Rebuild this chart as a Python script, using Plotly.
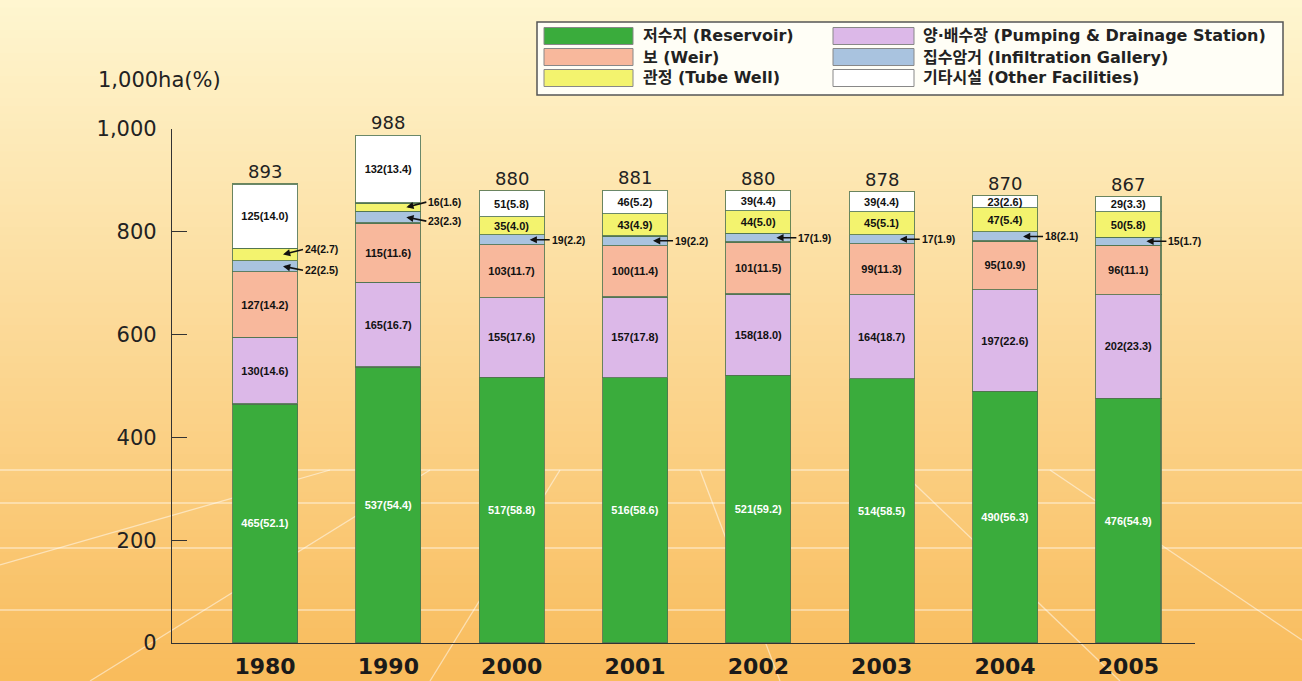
import plotly.graph_objects as go

# ---------------- data ----------------
years = ["1980", "1990", "2000", "2001", "2002", "2003", "2004", "2005"]
totals = [893, 988, 880, 881, 880, 878, 870, 867]
reservoir = [465, 537, 517, 516, 521, 514, 490, 476]
pumping = [130, 165, 155, 157, 158, 164, 197, 202]
weir = [127, 115, 103, 100, 101, 99, 95, 96]
infiltration = [22, 23, 19, 19, 17, 17, 18, 15]
tube_well = [24, 16, 35, 43, 44, 45, 47, 50]
other = [125, 132, 51, 46, 39, 39, 23, 29]

series_names = [
    "저수지 (Reservoir)",
    "양·배수장 (Pumping & Drainage Station)",
    "보 (Weir)",
    "집수암거 (Infiltration Gallery)",
    "관정 (Tube Well)",
    "기타시설 (Other Facilities)",
]
series_values = [reservoir, pumping, weir, infiltration, tube_well, other]
y_ticks = [0, 200, 400, 600, 800, 1000]
y_tick_text = ["0", "200", "400", "600", "800", "1,000"]
y_title = "1,000ha(%)"

# ---------------- style ----------------
colors = ["#3aac3c", "#dcb8e8", "#f8b89c", "#a9c3df", "#f3f36e", "#ffffff"]
text_colors = ["white", "#111111", "#111111", "#111111", "#111111", "#111111"]
# which series get labels outside with an arrow, per year index
outside = {3: set(range(8)), 4: {0, 1}}
LABEL_FONT = "Liberation Sans Narrow, Liberation Sans"
MAIN_FONT = "DejaVu Sans"

W, H = 1302, 681
PL, PR, PT, PB = 172, 1195, 129, 643


def px(x):
    return (x - PL) / (PR - PL)


def py(y):
    return (PB - y) / (PB - PT)


fig = go.Figure()

# gradient background
n_strips = 90
top_c = (255, 246, 208)
bot_c = (249, 188, 92)
for i in range(n_strips):
    t = i / (n_strips - 1)
    c = tuple(int(top_c[k] + (bot_c[k] - top_c[k]) * t) for k in range(3))
    y0 = i * H / n_strips
    y1 = (i + 1) * H / n_strips + 1
    fig.add_shape(type="rect", xref="paper", yref="paper",
                  x0=px(0), x1=px(W), y0=py(y1), y1=py(y0),
                  fillcolor="rgb(%d,%d,%d)" % c, line_width=0, layer="below")

# decorative perspective floor lines
floor_lines = [
    (0, 470, W, 470), (0, 503, W, 503), (0, 548, W, 548), (0, 610, W, 610),
    (0, 565, 330, 470), (90, 681, 430, 470), (430, 681, 560, 470),
    (780, 681, 700, 470), (1120, 681, 900, 470), (W, 640, 1050, 470),
]
for (x0, y0, x1, y1) in floor_lines:
    fig.add_shape(type="line", xref="paper", yref="paper",
                  x0=px(x0), y0=py(y0), x1=px(x1), y1=py(y1),
                  line=dict(color="rgba(255,255,255,0.5)", width=1.3),
                  layer="below")

# bars
for si, (name, vals) in enumerate(zip(series_names, series_values)):
    labels = []
    for yi, v in enumerate(vals):
        if yi in outside.get(si, set()):
            labels.append("")
        else:
            labels.append("<b>%d(%.1f)</b>" % (v, v / totals[yi] * 100))
    fig.add_trace(go.Bar(
        x=list(range(len(years))), y=vals, name=name, text=labels,
        textposition="inside", insidetextanchor="middle",
        constraintext="none", textangle=0,
        textfont=dict(family=LABEL_FONT, size=11, color=text_colors[si]),
        marker=dict(color=colors[si],
                    line=dict(color="rgba(80,115,80,0.85)", width=1.2)),
        width=0.527, showlegend=False, hoverinfo="skip",
    ))

annotations = []
# outside labels with arrows
for si, idxs in outside.items():
    vals = series_values[si]
    for yi in sorted(idxs):
        base = sum(series_values[k][yi] for k in range(si))
        mid = base + vals[yi] / 2
        n_out = sum(1 for s in outside if yi in outside[s])
        spread = 0
        if n_out > 1:
            spread = -5 if si == 4 else 4
        annotations.append(dict(
            x=yi, y=mid, xref="x", yref="y", xshift=18,
            text="<b>%d(%.1f)</b>" % (vals[yi], vals[yi] / totals[yi] * 100),
            showarrow=True, arrowhead=2, arrowsize=0.9, arrowwidth=1.6,
            arrowcolor="#111111", ax=20, ay=spread, xanchor="left",
            font=dict(family=LABEL_FONT, size=10.5, color="#111111"),
        ))

# totals
for yi, t in enumerate(totals):
    annotations.append(dict(
        x=yi, y=t, xref="x", yref="y", yanchor="bottom", yshift=0,
        text=str(t), showarrow=False,
        font=dict(family=MAIN_FONT, size=18, color="#222222"),
    ))

# y axis title
annotations.append(dict(
    x=px(96), y=py(80), xref="paper", yref="paper", xanchor="left",
    yanchor="middle", text=y_title, showarrow=False,
    font=dict(family=MAIN_FONT, size=21, color="#222222"),
))

# manual legend
box = (537, 22, 1283, 95)
fig.add_shape(type="rect", xref="paper", yref="paper",
              x0=px(box[0]), x1=px(box[2]), y0=py(box[3]), y1=py(box[1]),
              fillcolor="#fffef6", line=dict(color="#555555", width=1.5))
sw_x = [(544, 633), (833, 914)]
txt_x = [641, 921]
row_y = [36, 57, 78]
for si, name in enumerate(series_names):
    r, c = si // 2, si % 2
    fig.add_shape(type="rect", xref="paper", yref="paper",
                  x0=px(sw_x[c][0]), x1=px(sw_x[c][1]),
                  y0=py(row_y[r] + 8.5), y1=py(row_y[r] - 8.5),
                  fillcolor=colors[si], line=dict(color="#888888", width=1))
    annotations.append(dict(
        x=px(txt_x[c]), y=py(row_y[r]), xref="paper", yref="paper",
        xanchor="left", yanchor="middle", text="<b>%s</b>" % name,
        showarrow=False,
        font=dict(family="DejaVu Sans, Noto Sans CJK KR", size=16,
                  color="#222222"),
    ))

fig.update_layout(
    width=W, height=H,
    barmode="stack",
    margin=dict(l=PL, r=W - PR, t=PT, b=H - PB),
    paper_bgcolor="#fde3a0",
    plot_bgcolor="rgba(0,0,0,0)",
    annotations=annotations,
    showlegend=False,
    xaxis=dict(range=[-0.754, 7.54], showgrid=False, zeroline=False,
               tickvals=list(range(len(years))), ticktext=years,
               showline=True, linecolor="#333333", linewidth=1.2,
               ticks="", ticklabelstandoff=3, automargin=False,
               tickfont=dict(family=MAIN_FONT, size=22, color="#1a1a1a",
                             weight="bold")),
    yaxis=dict(range=[0, 1000], tickvals=y_ticks, ticktext=y_tick_text,
               showgrid=False, zeroline=False, showline=True,
               linecolor="#333333", linewidth=1.2, ticks="inside",
               ticklen=15, tickcolor="#333333", ticklabelstandoff=10,
               automargin=False,
               tickfont=dict(family=MAIN_FONT, size=21, color="#222222")),
)

fig.write_html("out.html", config={"displayModeBar": False},
               post_script="document.body.style.margin='0';")
